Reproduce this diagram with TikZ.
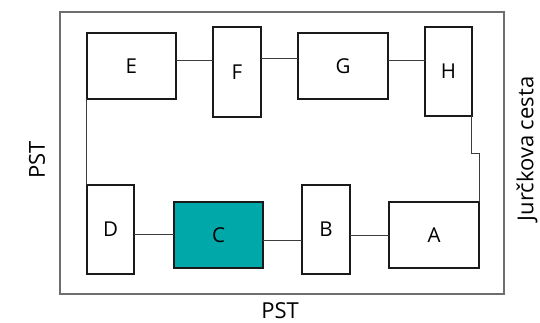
\documentclass[tikz,border=0pt]{standalone}
\usepackage{fontspec}
\setmainfont{Open Sans}
\definecolor{tealc}{RGB}{0,168,170}
\definecolor{boxline}{RGB}{26,26,26}
\definecolor{frameline}{RGB}{110,110,110}
\definecolor{wireline}{RGB}{60,60,60}
\begin{document}
\begin{tikzpicture}[x=1pt,y=-1pt,
  roombox/.style={draw=boxline,line width=2pt,inner sep=0pt,outer sep=0pt,font=\fontsize{20.5}{24}\selectfont},
  wire/.style={draw=wireline,line width=1pt},
  lbl/.style={font=\fontsize{22}{26}\selectfont,inner sep=0pt}]
\useasboundingbox (0,0) rectangle (540,323);
\draw[frameline,line width=1.3pt] (60,12) rectangle (504,294);
\node[roombox,minimum width=89pt,minimum height=66pt] (E) at (131.3,66) {E};
\node[roombox,minimum width=48pt,minimum height=90pt] (F) at (237,72) {F};
\node[roombox,minimum width=90pt,minimum height=66pt] (G) at (343,66) {G};
\node[roombox,minimum width=47pt,minimum height=89pt] (H) at (448.5,71.5) {H};
\node[roombox,minimum width=47pt,minimum height=89pt] (D) at (110.5,229.5) {D};
\node[roombox,fill=tealc,minimum width=89pt,minimum height=66pt] (C) at (218.5,235) {C};
\node[roombox,minimum width=48pt,minimum height=89pt] (B) at (326,229.5) {B};
\node[roombox,minimum width=90pt,minimum height=66pt] (A) at (434,235) {A};
\draw[wire] (E.east |- 0,61) -- (F.west |- 0,61);
\draw[wire] (F.east |- 0,58.7) -- (G.west |- 0,58.7);
\draw[wire] (G.east |- 0,61) -- (H.west |- 0,61);
\draw[wire] (E.south west) -- (E.south west |- D.north);
\draw[wire] (D.east |- 0,234) -- (C.west |- 0,234);
\draw[wire] (C.east |- 0,240) -- (B.west |- 0,240);
\draw[wire] (B.east |- 0,235) -- (A.west |- 0,235);
\coordinate (bend) at (471,154);
\draw[wire] (H.south east -| bend) -- (bend) -| (A.north east);
\node[lbl,rotate=90] (pstl) at (37,160) {PST};
\node[lbl] (pstb) at (280,311) {PST};
\node[lbl,rotate=90] (jur) at (527,149) {Jurčkova cesta};
\end{tikzpicture}
\end{document}
